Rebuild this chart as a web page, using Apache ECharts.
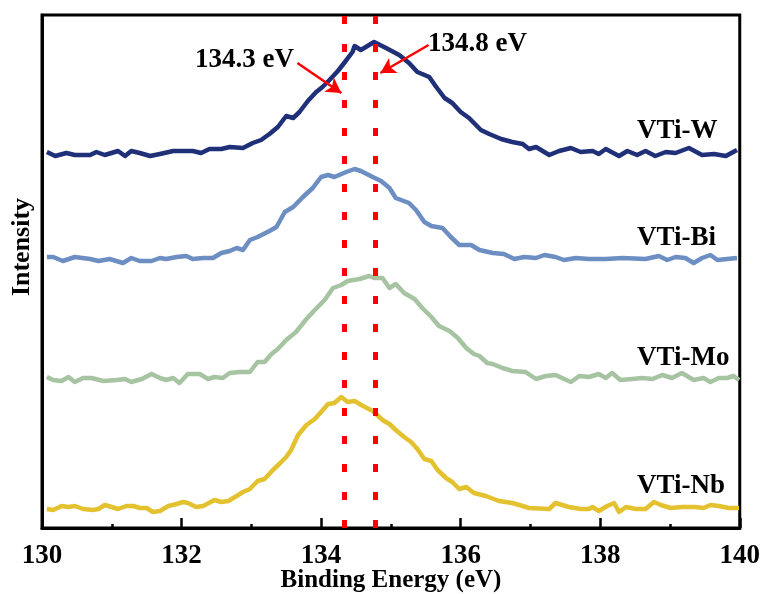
<!DOCTYPE html>
<html><head><meta charset="utf-8">
<script src="https://cdn.jsdelivr.net/npm/echarts@6/dist/echarts.min.js"></script>
<style>html,body{margin:0;padding:0;background:#fff}#c{width:763px;height:594px}</style>
</head><body><div id="c"></div><script>
// ---- data (binding energy in eV, intensity in arbitrary offset units) ----
const seriesNames = ['VTi-W', 'VTi-Bi', 'VTi-Mo', 'VTi-Nb'];
const seriesColors = ['#1f3079', '#6c8ec3', '#a7c4a2', '#e4c12f'];

const energyW = [130.07,130.19,130.35,130.47,130.69,130.78,130.90,131.09,131.19,131.28,131.40,131.55,131.69,131.88,132.16,132.28,132.40,132.57,132.69,132.88,133.02,133.14,133.26,133.38,133.50,133.60,133.69,133.81,133.93,134.02,134.12,134.24,134.33,134.45,134.48,134.57,134.76,134.93,135.12,135.26,135.38,135.55,135.65,135.77,135.88,136.00,136.12,136.29,136.41,136.58,136.74,136.89,136.98,137.08,137.27,137.41,137.58,137.72,137.89,137.98,138.08,138.27,138.39,138.53,138.65,138.79,138.94,139.08,139.27,139.46,139.63,139.80,139.96];
const intensityW = [376,372,375,373,373,376,373,377,372,377,375,372,374,377,377,375,379,379,381,380,385,388,394,401,412,410,416,427,436,441,448,457,465,476,482,478,486,480,473,465,456,451,441,430,425,416,410,398,394,389,386,384,379,381,373,377,380,376,377,374,379,372,377,373,377,372,376,375,380,373,374,372,378];

const energyBi = [130.07,130.16,130.30,130.47,130.69,130.81,130.97,131.16,131.28,131.40,131.57,131.69,131.78,131.93,132.07,132.16,132.31,132.45,132.57,132.69,132.79,132.88,132.98,133.09,133.26,133.36,133.48,133.60,133.74,133.88,134.00,134.10,134.19,134.36,134.48,134.57,134.74,134.86,134.98,135.07,135.26,135.36,135.48,135.58,135.74,135.86,135.98,136.15,136.27,136.46,136.62,136.77,136.91,137.08,137.20,137.36,137.48,137.65,137.84,138.08,138.32,138.65,138.84,138.96,139.08,139.22,139.34,139.46,139.58,139.68,139.82,139.96];
const intensityBi = [271,271,267,271,269,267,269,265,270,267,267,270,269,271,272,269,270,270,275,277,280,278,288,291,297,301,316,321,331,340,351,353,351,356,359,357,351,347,340,330,325,318,306,302,300,291,283,283,278,275,274,269,271,270,273,271,268,270,269,269,270,269,272,268,271,270,265,270,273,268,269,270];

const energyMo = [130.07,130.16,130.28,130.38,130.47,130.59,130.71,130.88,131.07,131.19,131.28,131.43,131.57,131.69,131.78,131.88,131.97,132.09,132.26,132.38,132.47,132.59,132.69,132.83,132.98,133.09,133.19,133.29,133.38,133.50,133.64,133.79,133.91,134.05,134.17,134.29,134.38,134.55,134.69,134.76,134.88,134.98,135.07,135.19,135.34,135.45,135.58,135.69,135.84,135.96,136.08,136.19,136.27,136.38,136.46,136.60,136.74,136.93,137.08,137.22,137.36,137.58,137.70,137.84,137.98,138.08,138.17,138.29,138.46,138.60,138.75,138.89,139.03,139.17,139.34,139.48,139.58,139.70,139.82,139.91,139.99];
const intensityMo = [151,148,147,151,146,150,150,147,148,149,146,149,154,150,148,150,145,154,154,149,151,150,155,156,156,166,166,174,179,188,196,209,218,228,240,243,247,249,252,250,250,240,244,235,229,220,211,202,197,190,180,174,172,165,164,160,157,156,149,152,153,146,152,151,154,150,155,148,149,150,149,153,150,155,148,150,146,150,150,152,148];

const energyNb = [130.07,130.16,130.28,130.38,130.47,130.59,130.73,130.81,130.90,131.00,131.09,131.21,131.31,131.40,131.50,131.59,131.69,131.81,131.93,132.02,132.09,132.21,132.31,132.47,132.57,132.67,132.79,132.88,132.98,133.09,133.19,133.31,133.40,133.50,133.57,133.67,133.79,133.91,134.00,134.10,134.19,134.29,134.38,134.48,134.60,134.74,134.88,134.98,135.07,135.19,135.29,135.38,135.48,135.58,135.67,135.79,135.88,135.98,136.08,136.19,136.36,136.55,136.74,136.89,136.98,137.27,137.36,137.55,137.72,137.84,137.89,137.98,138.10,138.20,138.27,138.37,138.51,138.65,138.77,138.87,139.01,139.17,139.37,139.48,139.58,139.70,139.84,139.99];
const intensityNb = [19,18,22,21,22,19,18,19,23,21,19,22,22,20,20,16,17,22,24,26,25,21,22,28,26,27,32,36,39,47,49,58,64,71,78,93,103,109,116,124,125,131,126,127,122,117,108,104,98,91,86,79,69,67,58,50,46,39,41,35,32,27,25,22,20,19,25,21,19,19,21,17,22,25,16,21,19,19,26,23,20,21,21,20,23,22,20,20];

const peakLines = [134.33, 134.77];
const peakLabels = ['134.3 eV', '134.8 eV'];
// arrows: [fromEnergy, fromIntensity, toEnergy, toIntensity]
const arrowCoords = [[133.66, 465, 134.29, 435], [135.54, 483, 134.85, 455]];
const xMin = 130, xMax = 140, xStep = 2;
const yMin = 0, yMax = 513;

const FONT = '"Liberation Serif","Times New Roman",serif';
const energies = [energyW, energyBi, energyMo, energyNb];
const intensities = [intensityW, intensityBi, intensityMo, intensityNb];

const series = seriesNames.map((name, i) => ({
  name, type: 'line', symbol: 'none', smooth: false,
  data: energies[i].map((e, j) => [e, intensities[i][j]]),
  lineStyle: { color: seriesColors[i], width: 4.5, join: 'round' },
  z: 3
}));

series.push({
  type: 'line', data: [], symbol: 'none', z: 5,
  markLine: {
    silent: true, symbol: 'none', animation: false,
    label: { show: false },
    lineStyle: { color: '#ff0000', width: 5, type: [8, 20] },
    data: peakLines.map(v => ({ xAxis: v }))
  }
});
series.push({
  type: 'line', data: [], symbol: 'none', z: 6,
  markLine: {
    silent: true, animation: false,
    symbol: ['none', 'arrow'], symbolSize: [13, 15],
    label: { show: false },
    lineStyle: { color: '#ff0000', width: 2.5, type: 'solid' },
    data: arrowCoords.map(a => [{ coord: [a[0], a[1]] }, { coord: [a[2], a[3]] }])
  }
});

const chart = echarts.init(document.getElementById('c'), null, { renderer: 'canvas' });
chart.setOption({
  animation: false,
  backgroundColor: '#fff',
  grid: { left: 42, right: 22, top: 15, bottom: 66, show: true, borderColor: '#000', borderWidth: 3, backgroundColor: 'transparent' },
  xAxis: {
    type: 'value', min: xMin, max: xMax, interval: xStep,
    axisLine: { show: true, onZero: false, lineStyle: { color: '#000', width: 3 } },
    axisTick: { show: true, inside: true, length: 10, lineStyle: { color: '#000', width: 2.5 } },
    minorTick: { show: true, splitNumber: 2, length: 4, lineStyle: { color: '#000', width: 2.5 } },
    splitLine: { show: false },
    axisLabel: { color: '#000', fontFamily: FONT, fontWeight: 'bold', fontSize: 27, margin: 15 }
  },
  yAxis: {
    type: 'value', min: yMin, max: yMax,
    axisLine: { show: true, lineStyle: { color: '#000', width: 3 } },
    axisTick: { show: false }, axisLabel: { show: false }, splitLine: { show: false }
  },
  series,
  graphic: [
    { type: 'text', x: 22, y: 247, rotation: Math.PI / 2, style: { text: 'Intensity', font: 'bold 26px ' + FONT, fill: '#000', textAlign: 'center', textVerticalAlign: 'middle' } },
    { type: 'text', x: 391, y: 581, style: { text: 'Binding Energy (eV)', font: 'bold 25px ' + FONT, fill: '#000', textAlign: 'center', textVerticalAlign: 'middle' } },
    { type: 'text', x: 195, y: 60, style: { text: peakLabels[0], font: 'bold 27px ' + FONT, fill: '#000', textAlign: 'left', textVerticalAlign: 'middle' } },
    { type: 'text', x: 428, y: 44, style: { text: peakLabels[1], font: 'bold 27px ' + FONT, fill: '#000', textAlign: 'left', textVerticalAlign: 'middle' } },
    { type: 'text', x: 637, y: 131, style: { text: seriesNames[0], font: 'bold 27px ' + FONT, fill: '#000', textAlign: 'left', textVerticalAlign: 'middle' } },
    { type: 'text', x: 637, y: 238, style: { text: seriesNames[1], font: 'bold 27px ' + FONT, fill: '#000', textAlign: 'left', textVerticalAlign: 'middle' } },
    { type: 'text', x: 637, y: 358, style: { text: seriesNames[2], font: 'bold 27px ' + FONT, fill: '#000', textAlign: 'left', textVerticalAlign: 'middle' } },
    { type: 'text', x: 637, y: 486, style: { text: seriesNames[3], font: 'bold 27px ' + FONT, fill: '#000', textAlign: 'left', textVerticalAlign: 'middle' } }
  ]
});
</script></body></html>
